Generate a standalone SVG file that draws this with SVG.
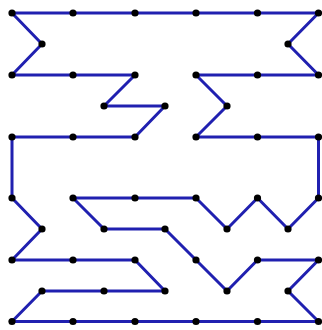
<svg xmlns="http://www.w3.org/2000/svg" xmlns:xlink="http://www.w3.org/1999/xlink" width="322" height="330" viewBox="0 0 322 330">
<style>
.edge{fill:none;stroke:#2020b0;stroke-width:3;stroke-linejoin:round;stroke-linecap:round}
.dot{fill:#000}
</style>
<defs><circle id="d" class="dot" r="3.6"/></defs>
<rect width="322" height="330" fill="#fff"/>
<g id="connectors">
<polygon class="edge" points="12,13 73,13 135,13 196,13 257.5,13 318.5,13 288,44 318.5,75 257.5,75 196,75 227,106 196,137 257.5,137 318.5,137 318.5,198 288,229 257.5,198 227,229 196,198 135,198 73,198 104,229 165,229 196,260 227,291 257.5,260 318.5,260 288,291 318.5,321.5 257.5,321.5 196,321.5 135,321.5 73,321.5 12,321.5 42,291 104,291 165,291 135,260 73,260 12,260 42,229 12,198 12,137 73,137 135,137 165,106 104,106 135,75 73,75 12,75 42,44"/>
</g>
<g id="n1"><use href="#d" x="12" y="13"/></g>
<g id="n2"><use href="#d" x="73" y="13"/></g>
<g id="n3"><use href="#d" x="135" y="13"/></g>
<g id="n4"><use href="#d" x="196" y="13"/></g>
<g id="n5"><use href="#d" x="257.5" y="13"/></g>
<g id="n6"><use href="#d" x="318.5" y="13"/></g>
<g id="n7"><use href="#d" x="288" y="44"/></g>
<g id="n8"><use href="#d" x="318.5" y="75"/></g>
<g id="n9"><use href="#d" x="257.5" y="75"/></g>
<g id="n10"><use href="#d" x="196" y="75"/></g>
<g id="n11"><use href="#d" x="227" y="106"/></g>
<g id="n12"><use href="#d" x="196" y="137"/></g>
<g id="n13"><use href="#d" x="257.5" y="137"/></g>
<g id="n14"><use href="#d" x="318.5" y="137"/></g>
<g id="n15"><use href="#d" x="318.5" y="198"/></g>
<g id="n16"><use href="#d" x="288" y="229"/></g>
<g id="n17"><use href="#d" x="257.5" y="198"/></g>
<g id="n18"><use href="#d" x="227" y="229"/></g>
<g id="n19"><use href="#d" x="196" y="198"/></g>
<g id="n20"><use href="#d" x="135" y="198"/></g>
<g id="n21"><use href="#d" x="73" y="198"/></g>
<g id="n22"><use href="#d" x="104" y="229"/></g>
<g id="n23"><use href="#d" x="165" y="229"/></g>
<g id="n24"><use href="#d" x="196" y="260"/></g>
<g id="n25"><use href="#d" x="227" y="291"/></g>
<g id="n26"><use href="#d" x="257.5" y="260"/></g>
<g id="n27"><use href="#d" x="318.5" y="260"/></g>
<g id="n28"><use href="#d" x="288" y="291"/></g>
<g id="n29"><use href="#d" x="318.5" y="321.5"/></g>
<g id="n30"><use href="#d" x="257.5" y="321.5"/></g>
<g id="n31"><use href="#d" x="196" y="321.5"/></g>
<g id="n32"><use href="#d" x="135" y="321.5"/></g>
<g id="n33"><use href="#d" x="73" y="321.5"/></g>
<g id="n34"><use href="#d" x="12" y="321.5"/></g>
<g id="n35"><use href="#d" x="42" y="291"/></g>
<g id="n36"><use href="#d" x="104" y="291"/></g>
<g id="n37"><use href="#d" x="165" y="291"/></g>
<g id="n38"><use href="#d" x="135" y="260"/></g>
<g id="n39"><use href="#d" x="73" y="260"/></g>
<g id="n40"><use href="#d" x="12" y="260"/></g>
<g id="n41"><use href="#d" x="42" y="229"/></g>
<g id="n42"><use href="#d" x="12" y="198"/></g>
<g id="n43"><use href="#d" x="12" y="137"/></g>
<g id="n44"><use href="#d" x="73" y="137"/></g>
<g id="n45"><use href="#d" x="135" y="137"/></g>
<g id="n46"><use href="#d" x="165" y="106"/></g>
<g id="n47"><use href="#d" x="104" y="106"/></g>
<g id="n48"><use href="#d" x="135" y="75"/></g>
<g id="n49"><use href="#d" x="73" y="75"/></g>
<g id="n50"><use href="#d" x="12" y="75"/></g>
<g id="n51"><use href="#d" x="42" y="44"/></g>
</svg>
